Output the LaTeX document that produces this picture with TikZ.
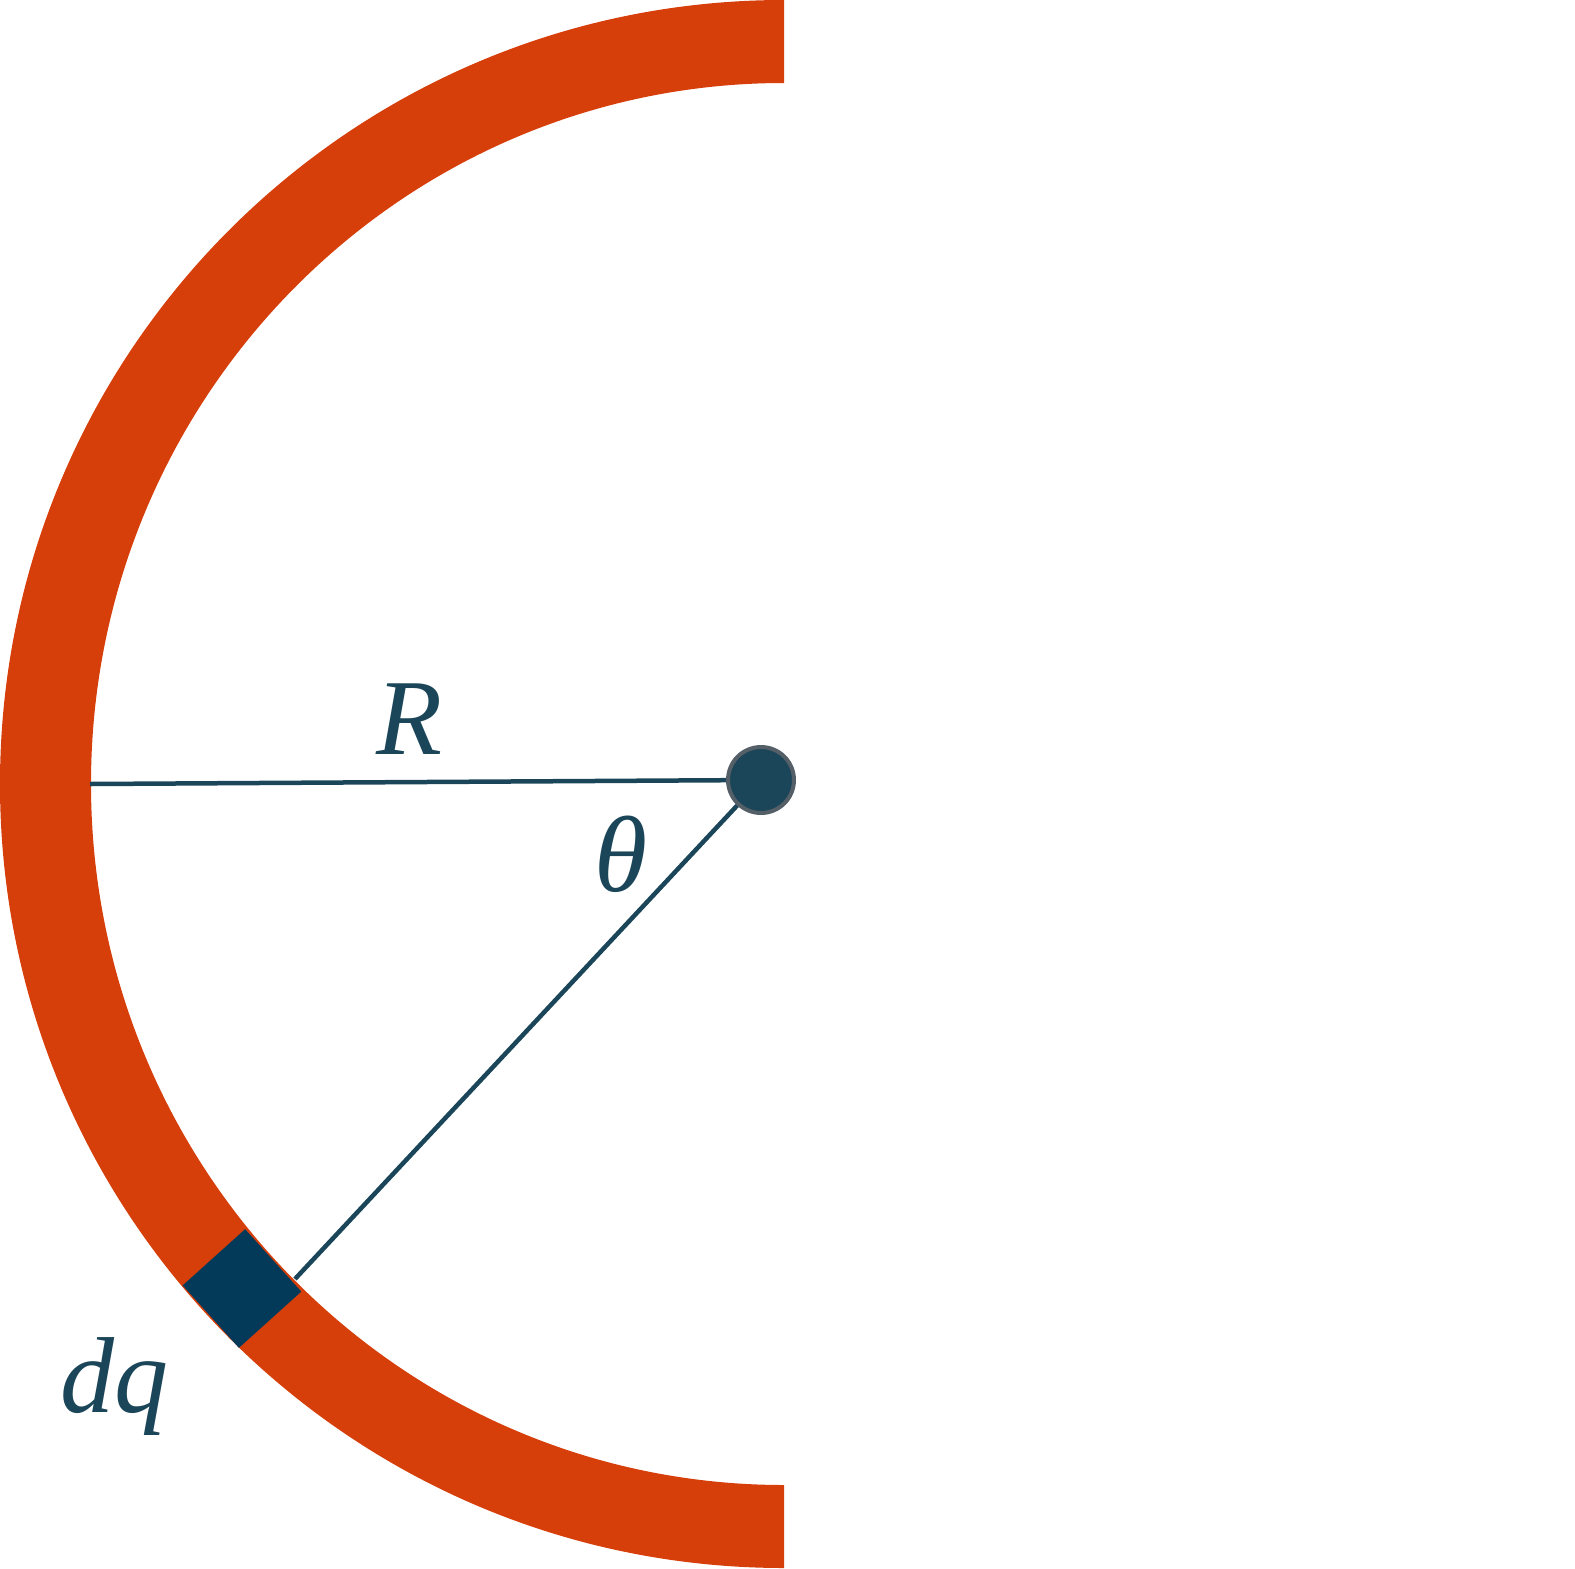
\documentclass[tikz,border=0pt]{standalone}
\usepackage{fontspec}
\setmainfont{Liberation Serif}
\definecolor{ringc}{HTML}{D63E0A}
\definecolor{inkc}{HTML}{1B4659}
\definecolor{sqc}{HTML}{033A5A}
\definecolor{rimc}{HTML}{555F68}
\tikzset{
  lbl/.style={text=inkc,font=\fontsize{108}{120}\selectfont\itshape,inner sep=0pt,anchor=base},
  conn/.style={draw=inkc,line width=4.5pt},
  dotnode/.style={circle,fill=inkc,draw=rimc,line width=4pt,minimum size=66pt,inner sep=0pt},
  elem/.style={rectangle,fill=sqc,minimum size=84pt,inner sep=0pt,rotate=42}
}
\begin{document}
\begin{tikzpicture}[x=1pt,y=-1pt]
\useasboundingbox (0,0) rectangle (1575,1569);
\fill[ringc] (784,0) arc[start angle=270,end angle=90,radius=784] -- (784,1485)
  arc[start angle=90,end angle=270,x radius=693,y radius=701] -- cycle;
\node[dotnode] (c) at (761,780) {};
\coordinate (rl) at (90,784);
\coordinate (de) at (295,1279);
\draw[conn] (rl) -- (c);
\draw[conn] (c) -- (de);
\node[elem] (dq) at (242,1288.5) {};
\node[lbl] (lr) at (409,754) {R};
\node[lbl] (lt) at (621,891) {θ};
\node[lbl] (ldq) at (114,1412) {dq};
\end{tikzpicture}
\end{document}
